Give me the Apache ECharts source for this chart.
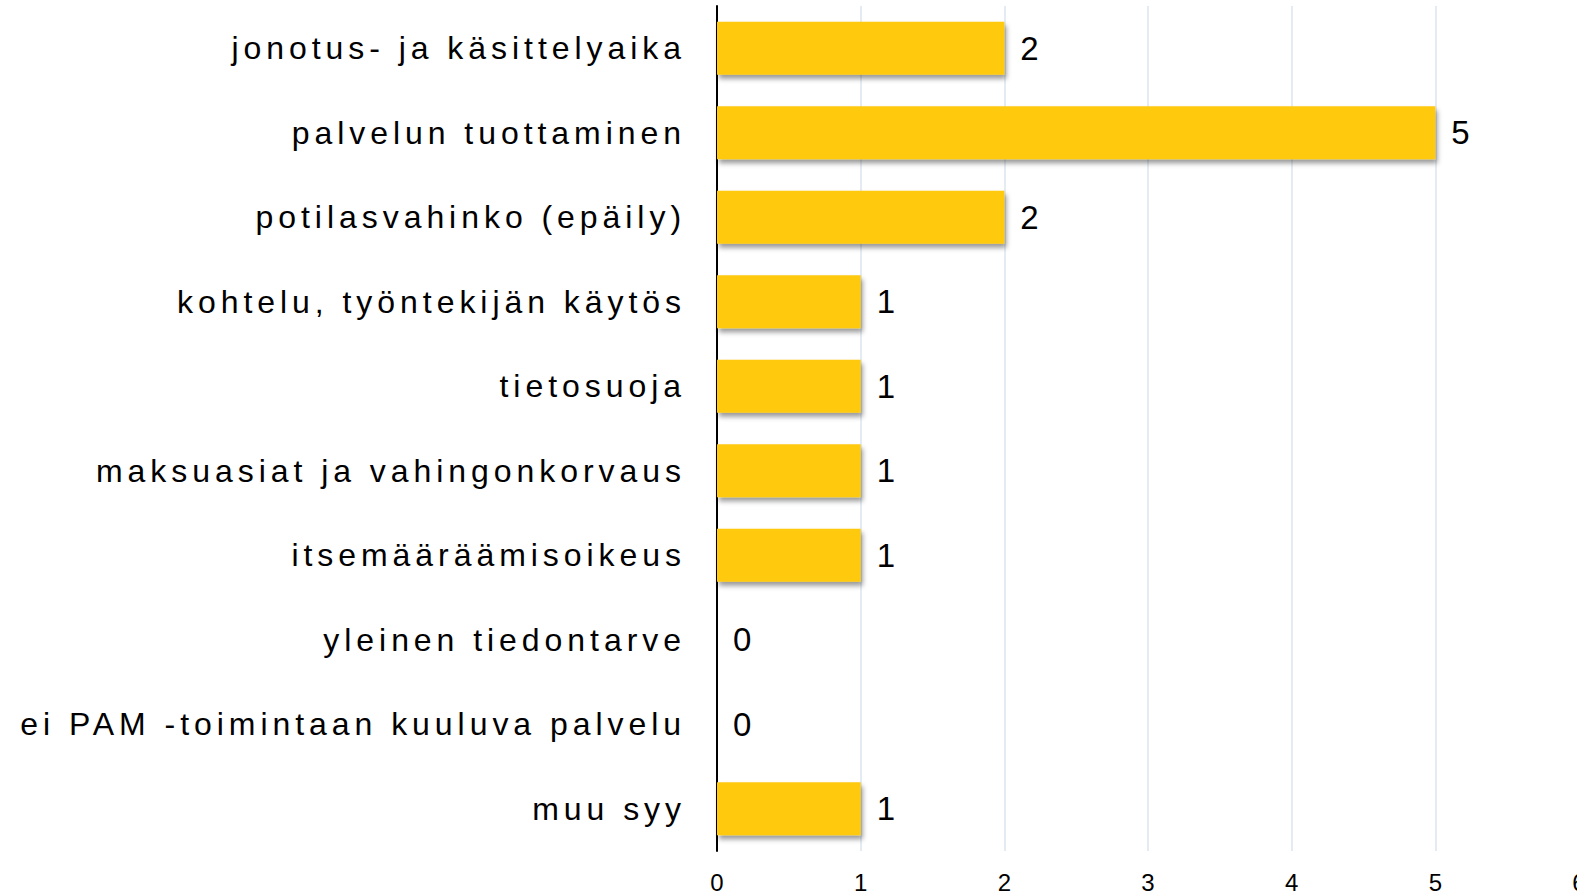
<!DOCTYPE html>
<html>
<head>
<meta charset="utf-8">
<script src="https://cdn.jsdelivr.net/npm/echarts@6/dist/echarts.min.js"></script>
<style>
  html, body { margin: 0; padding: 0; background: #fff; }
  #chart { width: 1577px; height: 894px; }
  /* kategorianimet on harvennettu kuten alkuperäisessä */
  #chart text[text-anchor="end"] { letter-spacing: 4.95px; }
</style>
</head>
<body>
<div id="chart"></div>
<script>
const categories = [
  'jonotus- ja käsittelyaika',
  'palvelun tuottaminen',
  'potilasvahinko (epäily)',
  'kohtelu, työntekijän käytös',
  'tietosuoja',
  'maksuasiat ja vahingonkorvaus',
  'itsemääräämisoikeus',
  'yleinen tiedontarve',
  'ei PAM -toimintaan kuuluva palvelu',
  'muu syy'
]
const values = [2, 5, 2, 1, 1, 1, 1, 0, 0, 1]
const xMin = 0
const xMax = 6

const font = "'Liberation Sans', Arial, sans-serif"
const chart = echarts.init(document.getElementById('chart'), null, { renderer: 'svg' })

chart.setOption({
  backgroundColor: '#fff',
  animation: false,
  grid: { left: 717, right: -2, top: 6, bottom: 43, outerBoundsMode: 'none', containLabel: false },
  xAxis: {
    type: 'value', min: xMin, max: xMax, interval: 1,
    axisLine: { show: false }, axisTick: { show: false },
    axisLabel: { color: '#000', fontSize: 24, fontFamily: font, margin: 19 },
    splitLine: { show: true, lineStyle: { color: '#dbe4ee', width: 1.5 } }
  },
  yAxis: {
    type: 'category', inverse: true, data: categories,
    axisLine: { show: true, lineStyle: { color: '#000', width: 2 } },
    axisTick: { show: false },
    axisLabel: { color: '#000', fontSize: 32, fontFamily: font, margin: 31 }
  },
  series: [{
    type: 'bar',
    data: values,
    barWidth: 53,
    itemStyle: {
      color: '#ffc90a',
      shadowColor: 'rgba(0,0,0,0.4)', shadowBlur: 5, shadowOffsetX: 2, shadowOffsetY: 4
    },
    label: {
      show: true, position: 'right', distance: 16,
      color: '#000', fontSize: 33, fontFamily: font
    }
  }]
})
</script>
</body>
</html>
